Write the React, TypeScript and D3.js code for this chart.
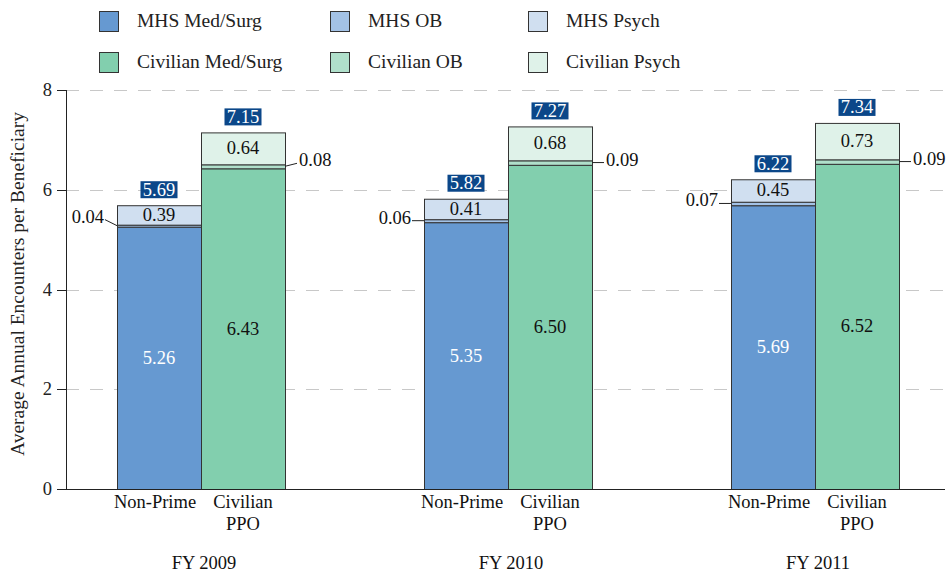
import React from "react";
import * as d3 from "d3";

const groups = ["FY 2009", "FY 2010", "FY 2011"];
const mhsMedSurg = [5.26, 5.35, 5.69];
const mhsOB = [0.04, 0.06, 0.07];
const mhsPsych = [0.39, 0.41, 0.45];
const civMedSurg = [6.43, 6.5, 6.52];
const civOB = [0.08, 0.09, 0.09];
const civPsych = [0.64, 0.68, 0.73];
const mhsTotal = [5.69, 5.82, 6.22];
const civTotal = [7.15, 7.27, 7.34];
const yTicks = [0, 2, 4, 6, 8];
const legendItems = [
  ["MHS Med/Surg", "MHS OB", "MHS Psych"],
  ["Civilian Med/Surg", "Civilian OB", "Civilian Psych"],
];

const W = 947;
const H = 575;
const FONT = "'Liberation Serif', serif";
const colors: Record<string, string> = {
  "MHS Med/Surg": "#6699d1",
  "MHS OB": "#a3c2e6",
  "MHS Psych": "#d0dff0",
  "Civilian Med/Surg": "#82cfae",
  "Civilian OB": "#b0e0cb",
  "Civilian Psych": "#dff2e9",
};
const BOX = "#0b4789";
const fmt = d3.format(".2f");

export default function App() {
  const y = d3.scaleLinear().domain([0, 8]).range([489, 90]);
  const xg = d3.scalePoint<string>().domain(groups).range([201, 815]);
  const bw = 84;
  const fs = 18.5;

  const stacks = groups.map((g, i) => {
    const cx = xg(g)!;
    return [
      {
        kind: "mhs",
        x: cx - bw,
        segs: [
          { key: "MHS Med/Surg", v: mhsMedSurg[i] },
          { key: "MHS OB", v: mhsOB[i] },
          { key: "MHS Psych", v: mhsPsych[i] },
        ],
        total: mhsTotal[i],
      },
      {
        kind: "civ",
        x: cx,
        segs: [
          { key: "Civilian Med/Surg", v: civMedSurg[i] },
          { key: "Civilian OB", v: civOB[i] },
          { key: "Civilian Psych", v: civPsych[i] },
        ],
        total: civTotal[i],
      },
    ];
  });

  return (
    <svg width={W} height={H} style={{ position: "absolute", left: 0, top: 0, background: "#fff" }} fontFamily={FONT}>
      {/* legend */}
      {legendItems.map((row, r) =>
        row.map((name, c) => {
          const lx = [99, 330, 528][c];
          const ly = [11, 52][r];
          return (
            <g key={name}>
              <rect x={lx + 0.5} y={ly + 0.5} width={19} height={20} fill={colors[name]} stroke="#333" strokeWidth={1} />
              <text x={lx + 38} y={ly + 16} fontSize={19.5} fill="#222">{name}</text>
            </g>
          );
        })
      )}

      {/* gridlines */}
      {yTicks.filter((t) => t > 0).map((t) => (
        <line key={t} x1={66} x2={947} y1={Math.round(y(t)) + 0.5} y2={Math.round(y(t)) + 0.5} stroke="#c8c8c8" strokeWidth={1} strokeDasharray="13,11" />
      ))}

      {/* y axis */}
      <line x1={66.5} x2={66.5} y1={y(8)} y2={y(0)} stroke="#222" strokeWidth={1} />
      {yTicks.map((t) => (
        <g key={t}>
          <line x1={57} x2={66} y1={Math.round(y(t)) + 0.5} y2={Math.round(y(t)) + 0.5} stroke="#222" />
          <text x={52} y={y(t) + 6} fontSize={fs} textAnchor="end" fill="#222">{t}</text>
        </g>
      ))}
      <text transform={`translate(24, 284) rotate(-90)`} textAnchor="middle" fontSize={19.5} fill="#222">
        Average Annual Encounters per Beneficiary
      </text>

      {/* bars */}
      {stacks.map((pair, gi) =>
        pair.map((b) => {
          let acc = 0;
          const segs = b.segs.map((s) => {
            const y0 = acc;
            acc += s.v;
            return { ...s, y0, y1: acc };
          });
          const top = y(acc);
          const ms = segs[0];
          const ob = segs[1];
          const ps = segs[2];
          const obMid = y((ob.y0 + ob.y1) / 2);
          const isM = b.kind === "mhs";
          const tot = fmt(b.total);
          const boxW = 37;
          const leftX = b.x;
          const rightX = b.x + bw;
          const slant = gi === 0 ? (isM ? 6 : 3) : 0;
          return (
            <g key={b.kind + gi}>
              {segs.map((s) => (
                <rect
                  key={s.key}
                  x={b.x + 0.5}
                  y={y(s.y1) + 0.5}
                  width={bw}
                  height={y(s.y0) - y(s.y1)}
                  fill={colors[s.key]}
                  stroke="#333"
                  strokeWidth={1}
                />
              ))}
              <text x={b.x + bw / 2} y={(y(ms.y0) + y(ms.y1)) / 2 + 6} textAnchor="middle" fontSize={fs} fill={isM ? "#fff" : "#111"}>
                {fmt(ms.v)}
              </text>
              <text x={b.x + bw / 2} y={(y(ps.y0) + y(ps.y1)) / 2 + 6} textAnchor="middle" fontSize={fs} fill="#111">
                {fmt(ps.v)}
              </text>
              {isM ? (
                <g>
                  <line x1={leftX - 12} y1={obMid - slant} x2={leftX} y2={obMid} stroke="#222" />
                  <text x={leftX - 13} y={obMid - slant - 3 + 6} textAnchor="end" fontSize={fs} fill="#111">{fmt(ob.v)}</text>
                </g>
              ) : (
                <g>
                  <line x1={rightX} y1={obMid} x2={rightX + 12} y2={obMid - slant} stroke="#222" />
                  <text x={rightX + 14} y={obMid - slant - 3 + 6} textAnchor="start" fontSize={fs} fill="#111">{fmt(ob.v)}</text>
                </g>
              )}
              <rect x={b.x + bw / 2 - boxW / 2} y={top - 24} width={boxW} height={17} fill={BOX} />
              <text x={b.x + bw / 2} y={top - 9.5} textAnchor="middle" fontSize={fs} fill="#fff">{tot}</text>
            </g>
          );
        })
      )}

      {/* baseline */}
      <line x1={66} x2={945} y1={489.5} y2={489.5} stroke="#222" strokeWidth={1} />

      {/* x labels */}
      {groups.map((g) => {
        const cx = xg(g)!;
        return (
          <g key={g} fontSize={fs} fill="#111">
            <text x={cx - bw / 2 - 4} y={508} textAnchor="middle">Non-Prime</text>
            <text x={cx + bw / 2} y={508} textAnchor="middle">Civilian</text>
            <text x={cx + bw / 2} y={530} textAnchor="middle">PPO</text>
            <text x={cx + 3} y={569} textAnchor="middle">{g}</text>
          </g>
        );
      })}
    </svg>
  );
}
